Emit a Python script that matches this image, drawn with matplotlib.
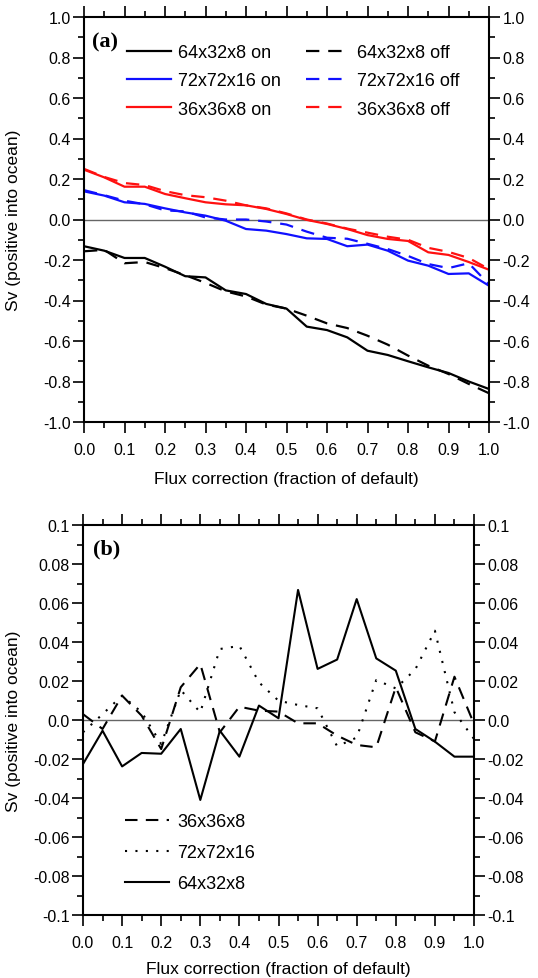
import numpy as np
import matplotlib
matplotlib.use('Agg')
import matplotlib.pyplot as plt
from matplotlib.ticker import MultipleLocator

plt.rcParams['font.family'] = ['Liberation Sans', 'DejaVu Sans']

# flux correction fraction, 0 to 1 in steps of 0.05
flux = [0.0, 0.05, 0.1, 0.15, 0.2, 0.25, 0.3, 0.35, 0.4, 0.45, 0.5,
        0.55, 0.6, 0.65, 0.7, 0.75, 0.8, 0.85, 0.9, 0.95, 1.0]

# panel (a): Sv, on / off
lo_on = [-0.132, -0.154, -0.19, -0.19, -0.233, -0.28, -0.286, -0.35, -0.368, -0.417, -0.44,
         -0.529, -0.546, -0.582, -0.648, -0.669, -0.70, -0.73, -0.758, -0.80, -0.837]
lo_off = [-0.157, -0.15, -0.216, -0.21, -0.24, -0.275, -0.313, -0.355, -0.38, -0.42, -0.44,
          -0.475, -0.513, -0.536, -0.574, -0.618, -0.672, -0.722, -0.763, -0.812, -0.858]
hi_on = [0.139, 0.118, 0.085, 0.077, 0.055, 0.035, 0.019, -0.006, -0.047, -0.055, -0.072,
         -0.093, -0.096, -0.132, -0.124, -0.154, -0.203, -0.228, -0.269, -0.266, -0.327]
hi_off = [0.145, 0.12, 0.093, 0.075, 0.045, 0.04, 0.01, 0.0, 0.0, -0.01, -0.025,
          -0.06, -0.09, -0.095, -0.12, -0.146, -0.18, -0.22, -0.24, -0.216, -0.32]
mid_on = [0.246, 0.208, 0.162, 0.162, 0.126, 0.105, 0.085, 0.075, 0.07, 0.052, 0.027,
          -0.002, -0.022, -0.047, -0.077, -0.096, -0.106, -0.162, -0.175, -0.21, -0.248]
mid_off = [0.25, 0.21, 0.18, 0.17, 0.14, 0.12, 0.11, 0.093, 0.07, 0.055, 0.03,
           0.0, -0.02, -0.045, -0.065, -0.085, -0.10, -0.14, -0.16, -0.19, -0.245]

# panel (b): difference on - off
diff_36 = [0.003, -0.0046, 0.0125, 0.0022, -0.0149, 0.0168, 0.0287, -0.0063, 0.0068, 0.0048, 0.0043,
           -0.0017, -0.0017, -0.008, -0.0128, -0.014, 0.0168, -0.0063, -0.011, 0.0222, -0.002]
diff_72 = [-0.0063, 0.003, 0.0125, 0.004, -0.0123, 0.0154, 0.0039, 0.0364, 0.038, 0.0193, 0.0099,
           0.0077, 0.006, -0.0135, -0.009, 0.0205, 0.0162, 0.026, 0.0458, 0.004, -0.0097]
diff_64 = [-0.0226, -0.0055, -0.0238, -0.0169, -0.0173, -0.0046, -0.041, -0.0055, -0.0188, 0.0074, 0.0009,
           0.0667, 0.0262, 0.031, 0.062, 0.0316, 0.0253, -0.0046, -0.0111, -0.0188, -0.0188]


def style_axes(ax, ymin, ymax, ymaj, ymin_step, yfmt, ylab_x, xpad):
    ax.set_xlim(0, 1)
    ax.set_ylim(ymin, ymax)
    ax.xaxis.set_major_locator(MultipleLocator(0.1))
    ax.xaxis.set_minor_locator(MultipleLocator(0.05))
    ax.yaxis.set_major_locator(MultipleLocator(ymaj))
    ax.yaxis.set_minor_locator(MultipleLocator(ymin_step))
    ax.tick_params(which='both', direction='out', top=True, right=True,
                   labelright=True, labelsize=11.5, width=1.2, pad=2)
    ax.tick_params(axis='x', which='major', pad=6.5)
    ax.tick_params(which='major', length=7.7)
    ax.tick_params(which='minor', length=4.6)
    ax.set_xticks(np.arange(0, 1.01, 0.1))
    ax.set_xticklabels(['%.1f' % v for v in np.arange(0, 1.01, 0.1)])
    yt = np.arange(ymin, ymax + ymaj / 2, ymaj)
    ax.set_yticks(yt)
    ax.set_yticklabels([yfmt(v) for v in yt])
    for s in ax.spines.values():
        s.set_linewidth(1.5)
    ax.axhline(0, color='#666666', lw=1.0, zorder=1)
    ax.set_xlabel('Flux correction (fraction of default)', fontsize=12.5, labelpad=xpad)
    ax.set_ylabel('Sv (positive into ocean)', fontsize=12.5)
    ax.yaxis.set_label_coords(ylab_x, 0.5)


def fmt_a(v):
    return '%.1f' % (round(v, 1) + 0.0)


def fmt_b(v):
    v = round(v, 2) + 0.0
    if v == 0:
        return '0.0'
    s = ('%.2f' % v).rstrip('0')
    return s


fig = plt.figure(figsize=(5.38, 9.79), dpi=100)
ax1 = fig.add_axes([84 / 538, 1 - 423 / 979, 405 / 538, 405 / 979])
ax2 = fig.add_axes([83 / 538, 1 - 916 / 979, 391 / 538, 390 / 979])

dash = (0, (6, 4))
lw = 1.6
ax1.plot(flux, lo_on, color='black', lw=lw, label='64x32x8 on')
ax1.plot(flux, hi_on, color='#1010ff', lw=lw, label='72x72x16 on')
ax1.plot(flux, mid_on, color='#ff1010', lw=lw, label='36x36x8 on')
ax1.plot(flux, lo_off, color='black', lw=lw, ls=dash, label='64x32x8 off')
ax1.plot(flux, hi_off, color='#1010ff', lw=lw, ls=dash, label='72x72x16 off')
ax1.plot(flux, mid_off, color='#ff1010', lw=lw, ls=dash, label='36x36x8 off')
style_axes(ax1, -1.0, 1.0, 0.2, 0.1, fmt_a, -0.155, 10)
ax1.legend(ncol=2, loc='upper left', bbox_to_anchor=(0.085, 0.955), frameon=False,
           fontsize=13, handlelength=2.4, handletextpad=0.4, columnspacing=1.4,
           labelspacing=0.62, borderpad=0)
ax1.text(0.02, 0.94, '(a)', transform=ax1.transAxes, fontsize=16, fontweight='bold',
         family='Liberation Serif', va='center', ha='left')

ax2.plot(flux, diff_36, color='black', lw=1.5, ls=dash, label='36x36x8')
ax2.plot(flux, diff_72, color='black', lw=1.5, ls=(0, (1, 4)), label='72x72x16')
ax2.plot(flux, diff_64, color='black', lw=1.5, label='64x32x8')
style_axes(ax2, -0.1, 0.1, 0.02, 0.01, fmt_b, -0.158, 8)
ax2.legend(loc='upper left', bbox_to_anchor=(0.085, 0.285), frameon=False,
           fontsize=13, handlelength=2.4, handletextpad=0.5,
           labelspacing=0.78, borderpad=0)
ax2.text(0.025, 0.94, '(b)', transform=ax2.transAxes, fontsize=16, fontweight='bold',
         family='Liberation Serif', va='center', ha='left')

fig.savefig('out.png', dpi=100)
